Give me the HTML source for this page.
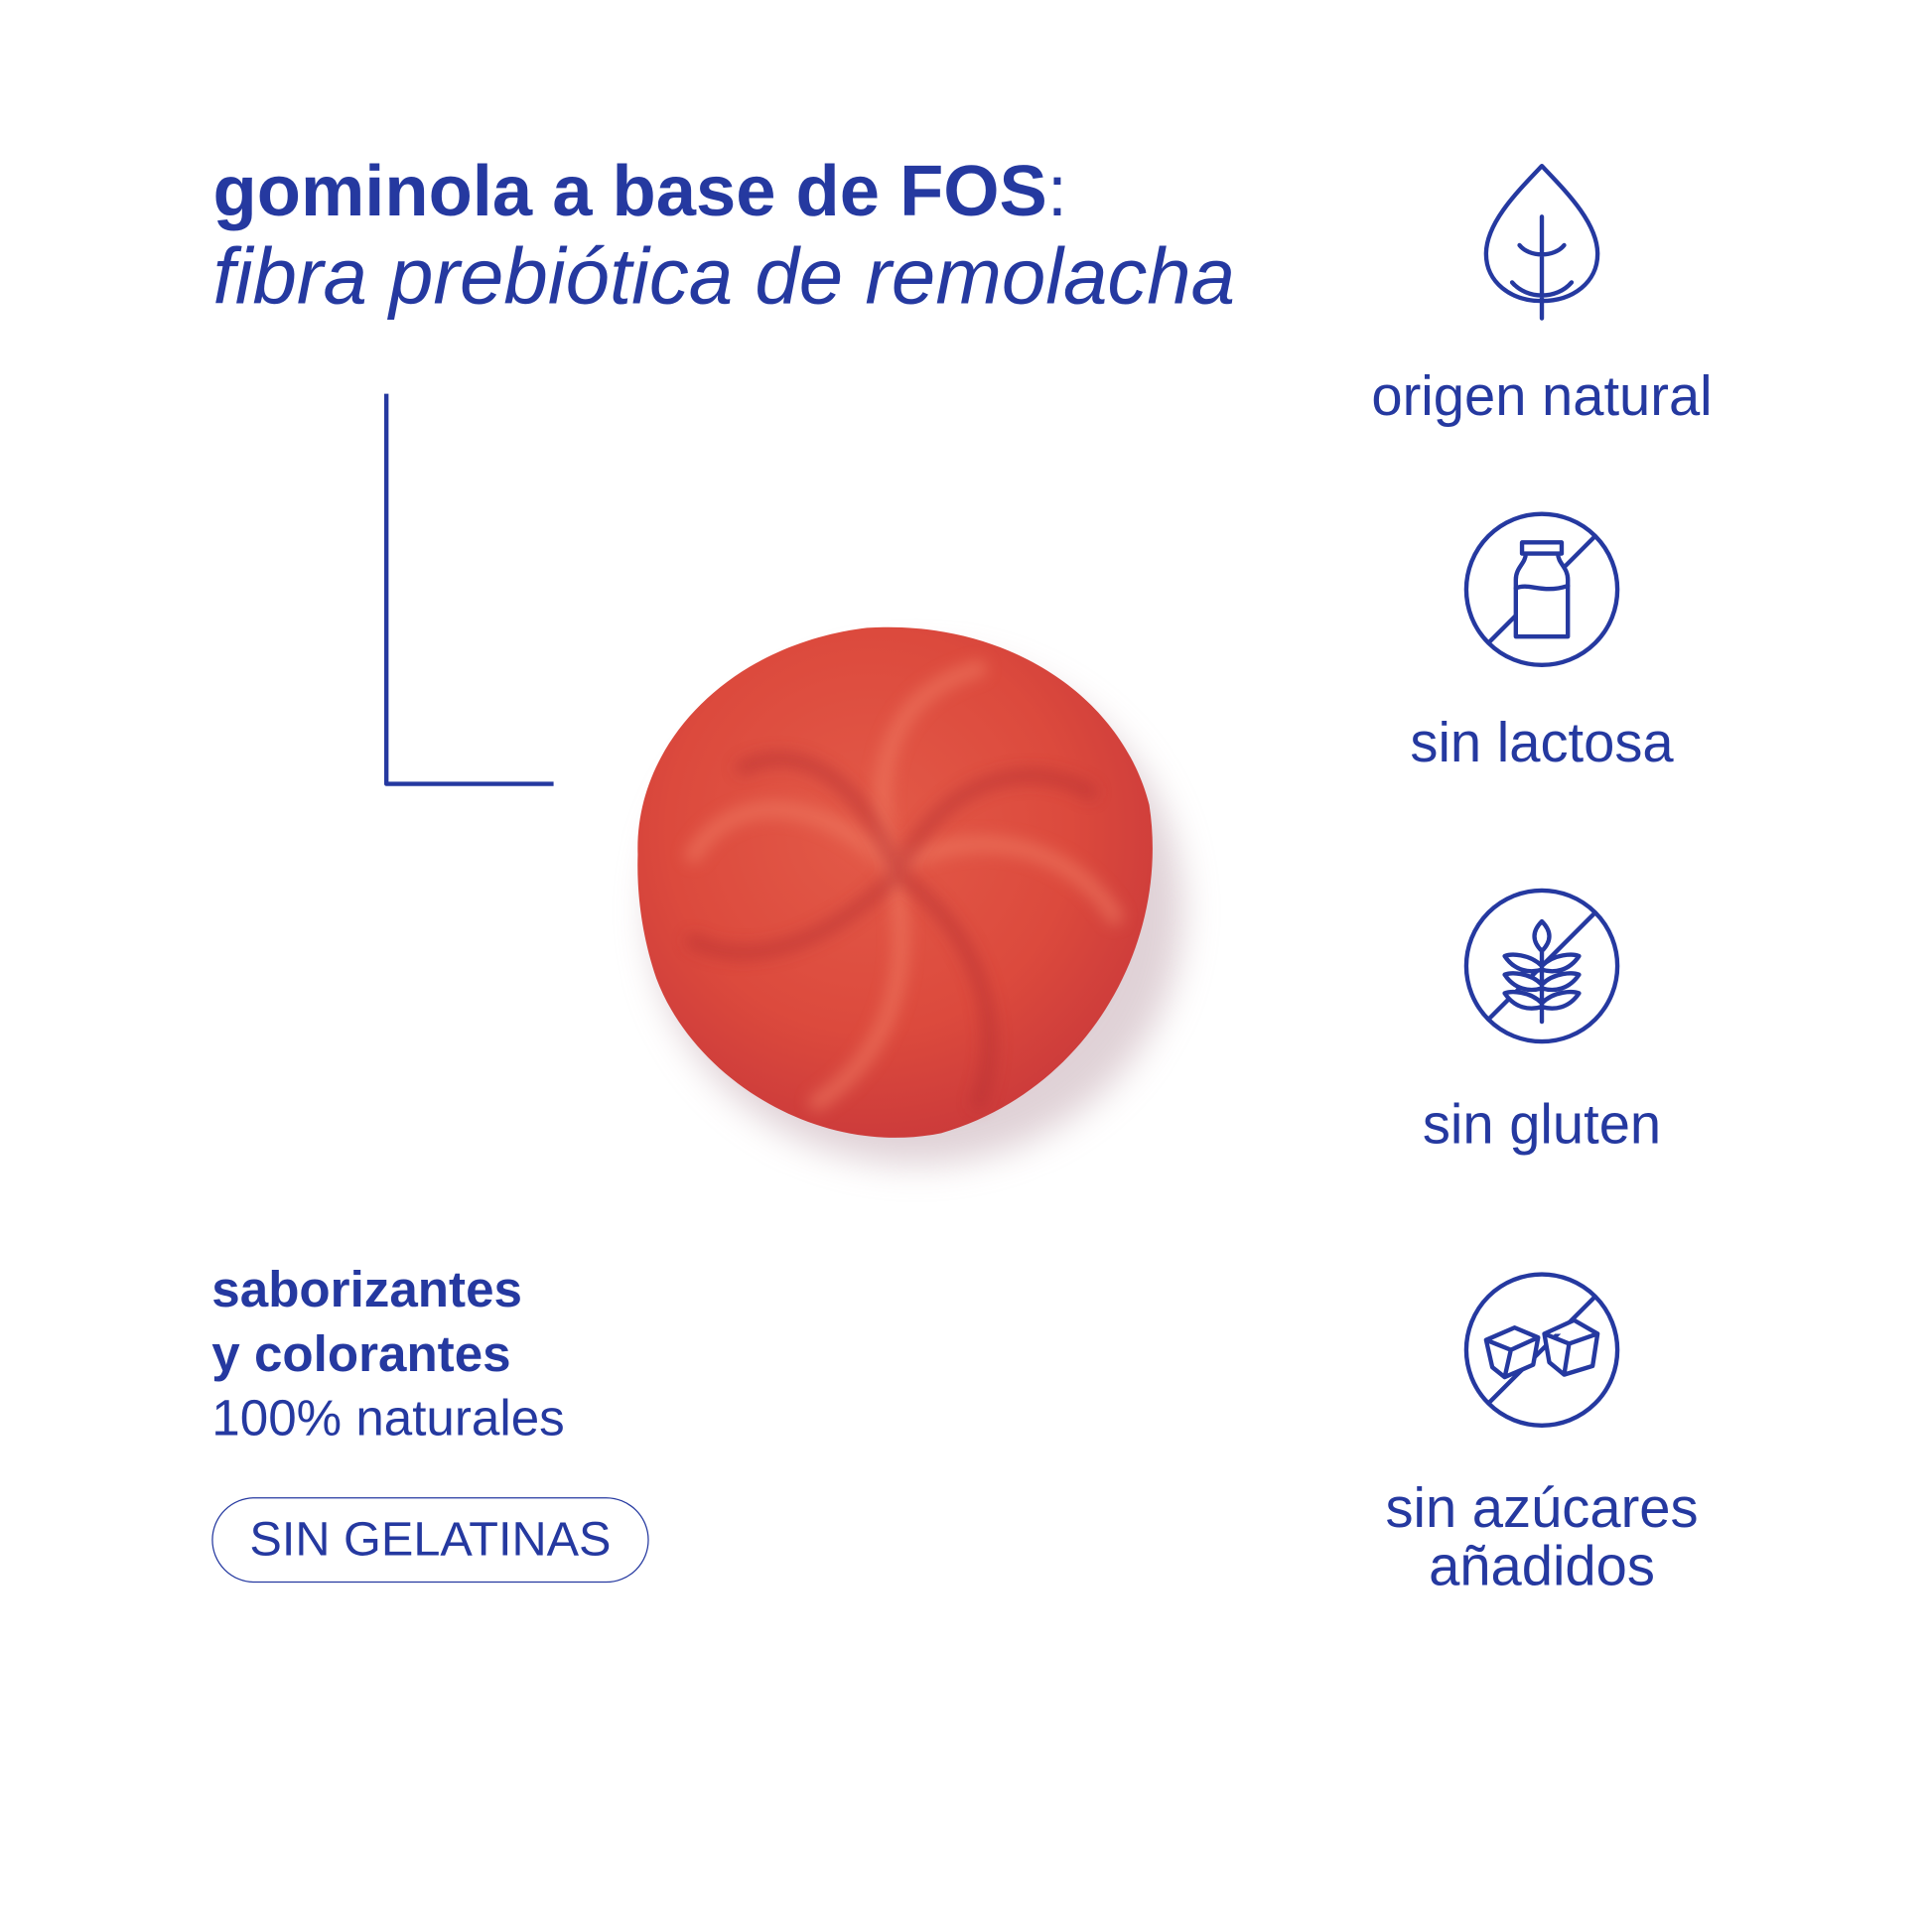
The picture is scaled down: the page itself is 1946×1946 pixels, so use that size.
<!DOCTYPE html>
<html><head><meta charset="utf-8"><style>
html,body{margin:0;padding:0;background:#fff;}
#wrap{width:1946px;height:1946px;overflow:hidden;position:relative;background:#fff;}
#s{position:absolute;left:0;top:0;width:1560px;height:1560px;transform:scale(1.2474);transform-origin:0 0;font-family:"Liberation Sans",sans-serif;color:#2539a0;}
.t{position:absolute;white-space:nowrap;}
.c{position:absolute;width:400px;left:1045px;text-align:center;font-size:45px;line-height:47px;}
</style></head><body><div id="wrap"><div id="s">
<div class="t" style="left:172px;top:121px;font-size:58px;font-weight:bold;">gominola a base de FOS<span style="font-weight:normal">:</span></div>
<div class="t" style="left:172px;top:186px;font-size:64px;font-style:italic;">fibra prebiótica de remolacha</div>
<div class="t" style="left:171px;top:1015px;font-size:41px;font-weight:bold;line-height:52px;">saborizantes<br>y colorantes<br><span style="font-weight:normal">100% naturales</span></div>
<div class="t" style="left:171px;top:1209px;width:351px;height:67px;border:1.5px solid #2539a0;border-radius:35px;text-align:center;line-height:67px;font-size:39px;">SIN GELATINAS</div>
<div class="c" style="top:296px;">origen natural</div>
<div class="c" style="top:576px;">sin lactosa</div>
<div class="c" style="top:884px;">sin gluten</div>
<div class="c" style="top:1194px;">sin azúcares<br>añadidos</div>
<svg width="1560" height="1560" style="position:absolute;left:0;top:0" fill="none" stroke="#2539a0" stroke-width="3.5" stroke-linecap="round" stroke-linejoin="round">
<defs>
<radialGradient id="g" cx="0.45" cy="0.4" r="0.65">
<stop offset="0" stop-color="#e35a48"/><stop offset="0.6" stop-color="#dc4a3d"/><stop offset="1" stop-color="#c9383a"/>
</radialGradient>
<filter id="b"><feGaussianBlur stdDeviation="14"/></filter>
<filter id="b2"><feGaussianBlur stdDeviation="6"/></filter>
</defs>
<polyline points="312,318 312,633 447,633" stroke-width="3.5" stroke-linecap="butt"/>
<ellipse cx="740" cy="735" rx="215" ry="205" fill="#d8c6cc" stroke="none" filter="url(#b)" opacity="0.8"/>
<path d="M515,690 C512,600 590,520 700,507 C810,500 905,560 928,650 C945,760 880,880 760,915 C660,935 560,870 530,790 C518,755 514,720 515,690Z" fill="url(#g)" stroke="none"/>
<g stroke="#f07a62" stroke-width="14" opacity="0.55" filter="url(#b2)">
<path d="M720,700 C660,640 590,640 560,690"/>
<path d="M720,700 C700,620 720,560 790,540"/>
<path d="M720,700 C800,660 870,690 900,740"/>
<path d="M720,700 C740,780 720,850 660,890"/>
</g>
<g stroke="#b52e33" stroke-width="12" opacity="0.5" filter="url(#b2)">
<path d="M725,705 C690,620 640,600 600,620"/>
<path d="M725,705 C760,630 830,610 880,640"/>
<path d="M725,705 C800,760 810,840 790,890"/>
<path d="M725,705 C660,770 600,780 560,760"/>
</g>
<g transform="translate(-5,0)">
<path d="M1250,134 C1230,155 1205,180 1205,205 C1205,228 1225,243 1250,243 C1275,243 1295,228 1295,205 C1295,180 1270,155 1250,134Z"/>
<path d="M1250,175 L1250,257 M1232,198 C1240,208 1260,208 1268,198 M1226,228 C1238,242 1262,242 1274,228"/>
<circle cx="1250" cy="476" r="61"/>
<path d="M1207,519 L1293,433" />
<path d="M1234,438 h32 v9 h-32z M1237,447 C1237,455 1229,458 1229,468 V514 H1271 V468 C1271,458 1263,455 1263,447" fill="#fff"/>
<path d="M1229,475 C1240,470 1250,480 1271,473"/>
<circle cx="1250" cy="780" r="61"/>
<path d="M1207,823 L1293,737"/>
<path d="M1250,744 C1242,752 1242,760 1250,768 C1258,760 1258,752 1250,744Z M1250,768 V825 M1250,780 C1240,770 1225,770 1220,772 C1228,784 1240,786 1250,783 C1260,786 1272,784 1280,772 C1275,770 1260,770 1250,780Z M1250,795 C1240,785 1225,785 1220,787 C1228,799 1240,801 1250,798 C1260,801 1272,799 1280,787 C1275,785 1260,785 1250,795Z M1250,810 C1240,800 1225,800 1220,802 C1228,814 1240,816 1250,813 C1260,816 1272,814 1280,802 C1275,800 1260,800 1250,810Z" fill="#fff"/>
<circle cx="1250" cy="1090" r="61"/>
<path d="M1207,1133 L1293,1047"/>
<path d="M1205,1082 L1228,1072 L1247,1080 L1243,1102 L1220,1112 L1210,1104Z M1205,1082 L1225,1090 L1247,1080 M1225,1090 L1220,1112" fill="#fff"/>
<path d="M1252,1077 L1276,1066 L1295,1077 L1291,1103 L1268,1110 L1256,1100Z M1252,1077 L1272,1085 L1295,1077 M1272,1085 L1268,1110" fill="#fff"/>
</g>
</svg>
</div></div></body></html>
